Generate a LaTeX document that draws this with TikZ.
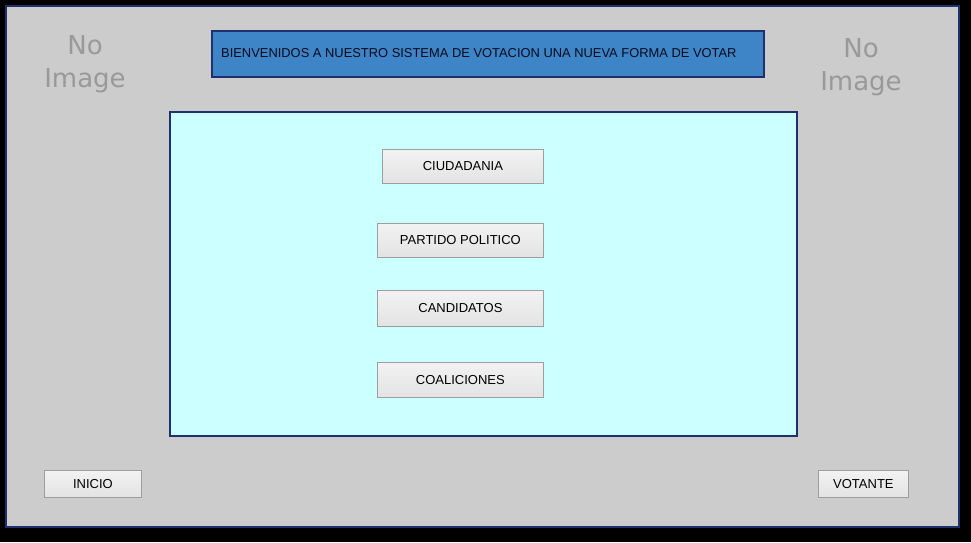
\documentclass[tikz,border=0pt]{standalone}
\usepackage{fontspec}
\setmainfont{Liberation Sans}
\newfontfamily\noimgfont{DejaVu Sans}
\definecolor{navy}{RGB}{30,48,110}
\definecolor{hdrblue}{RGB}{61,133,198}
\definecolor{cyanfill}{RGB}{204,255,255}
\begin{document}
\begin{tikzpicture}[x=1pt,y=-1pt,
  btn/.style={draw=black!38, line width=0.8pt, top color=black!5, bottom color=black!11, inner sep=0pt, font=\fontsize{13}{15}\selectfont, text=black},
  noimg/.style={text=black!40, align=center, font=\noimgfont\fontsize{26}{33}\selectfont},
  panel/.style={draw=navy, line width=1.6pt}]
\useasboundingbox (0,0) rectangle (971,542);
\fill[black] (0,0) rectangle (971,542);
\filldraw[fill=black!20, draw=navy, line width=2pt] (6,6) rectangle (959,527);
% header
\node[panel, fill=hdrblue, minimum width=552, minimum height=46, anchor=north west, inner sep=0pt] (hdr) at (211,30) {};
\node[anchor=west, inner sep=0pt, font=\fontsize{12.9}{15}\selectfont, text={rgb,255:red,5;green,10;blue,30}] (hdrtxt) at (221,53) {BIENVENIDOS A NUESTRO SISTEMA DE VOTACION UNA NUEVA FORMA DE VOTAR};
% cyan panel
\node[panel, fill=cyanfill, minimum width=627, minimum height=324, anchor=north west, inner sep=0pt] (main) at (169,111) {};
% no image
\node[noimg] (imgL) at (85,64) {No\\Image};
\node[noimg] (imgR) at (861,67) {No\\Image};
% buttons
\node[btn, minimum width=161, minimum height=34, anchor=north west] (ciud) at (382,149) {CIUDADANIA};
\node[btn, minimum width=166, minimum height=34, anchor=north west] (part) at (377,223) {PARTIDO POLITICO};
\node[btn, minimum width=166, minimum height=36, anchor=north west] (cand) at (377,290) {CANDIDATOS};
\node[btn, minimum width=166, minimum height=35, anchor=north west] (coal) at (377,362) {COALICIONES};
\node[btn, minimum width=97, minimum height=27, anchor=north west] (inicio) at (44,470) {INICIO};
\node[btn, minimum width=90, minimum height=27, anchor=north west] (vot) at (818,470) {VOTANTE};
\end{tikzpicture}
\end{document}
